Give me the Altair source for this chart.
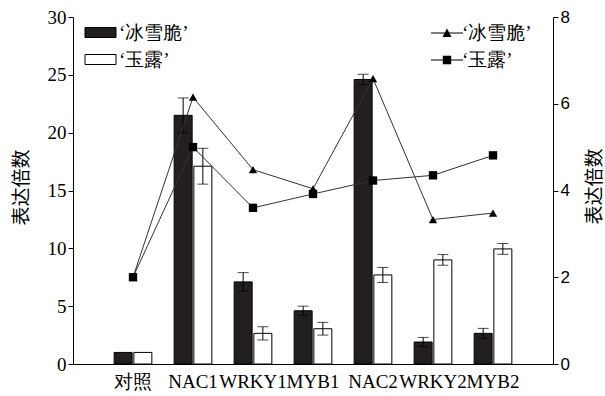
import altair as alt
import pandas as pd

genes = ['对照', 'NAC1', 'WRKY1', 'MYB1', 'NAC2', 'WRKY2', 'MYB2']
varieties = ['‘冰雪脆’', '‘玉露’']

# bar values (left axis) and error half-widths
bx_bar = [1.0, 21.5, 7.1, 4.6, 24.6, 1.9, 2.65]
bx_err = [0.0, 1.5, 0.8, 0.4, 0.45, 0.4, 0.43]
yl_bar = [1.0, 17.1, 2.65, 3.05, 7.7, 9.0, 9.95]
yl_err = [0.0, 1.55, 0.57, 0.55, 0.65, 0.46, 0.47]

# line values (right axis)
bx_line = [2.0, 6.15, 4.48, 4.04, 6.58, 3.33, 3.48]
yl_line = [2.0, 5.0, 3.6, 3.92, 4.23, 4.35, 4.81]

left_ticks = [0, 5, 10, 15, 20, 25, 30]
right_ticks = [0, 2, 4, 6, 8]

bar_rows = []
for v, vals, errs in [(varieties[0], bx_bar, bx_err), (varieties[1], yl_bar, yl_err)]:
    for g, val, e in zip(genes, vals, errs):
        bar_rows.append({'gene': g, 'variety': v, 'value': val, 'err': e,
                         'lo': val - e, 'hi': val + e})
bar_df = pd.DataFrame(bar_rows)

line_rows = []
for v, vals in [(varieties[0], bx_line), (varieties[1], yl_line)]:
    for g, val in zip(genes, vals):
        line_rows.append({'gene': g, 'variety': v, 'value': val, 'variety_l': v})
line_df = pd.DataFrame(line_rows)

SERIF = 'Liberation Serif'
SANS = 'Liberation Sans'
CJK = 'Noto Sans CJK SC'

x_enc = alt.X('gene:N', sort=genes,
              scale=alt.Scale(paddingInner=0, paddingOuter=0.5),
              axis=alt.Axis(title=None, ticks=False, labelAngle=0, labelFont=SERIF,
                            labelFontSize=19, labelColor='black', labelPadding=8,
                            domainColor='black', domainWidth=1))
xoff = alt.XOffset('variety:N', sort=varieties,
                   scale=alt.Scale(paddingInner=0.086, paddingOuter=0.566))

y_left_scale = alt.Scale(domain=[0, 30], nice=False)
y_left_axis = alt.Axis(title='表达倍数', values=left_ticks, grid=False, tickSize=5,
                       tickColor='black', domainColor='black', labelFont=SERIF,
                       labelFontSize=19, labelColor='black', labelPadding=2,
                       titleFont=CJK, titleFontSize=19, titleFontWeight='normal',
                       titleColor='black', titleAngle=270, titleBaseline='middle',
                       titleX=-52, titleY=170)

bar_legend = alt.Legend(title=None, orient='none', legendX=17, legendY=5,
                        symbolType='M-1.55,-0.5H1.55V0.5H-1.55Z', symbolSize=400,
                        symbolStrokeColor='black', symbolStrokeWidth=1,
                        labelFont=SERIF, labelFontSize=19, labelColor='black',
                        labelOffset=8, rowPadding=6, padding=0)

bars = alt.Chart(bar_df).mark_bar(stroke='black', strokeWidth=1).encode(
    x=x_enc, xOffset=xoff,
    y=alt.Y('value:Q', scale=y_left_scale, axis=y_left_axis),
    fill=alt.Fill('variety:N', sort=varieties,
                  scale=alt.Scale(domain=varieties, range=['#231f20', 'white']),
                  legend=bar_legend),
)

err_base = alt.Chart(bar_df).transform_filter('datum.err > 0')
rules = err_base.mark_rule(color='black', strokeWidth=1).encode(
    x=alt.X('gene:N', sort=genes), xOffset=xoff,
    y=alt.Y('lo:Q', scale=y_left_scale), y2='hi:Q')
caps = err_base.transform_fold(['lo', 'hi'], as_=['k', 'v']).mark_tick(
    color='black', thickness=1, size=11).encode(
    x=alt.X('gene:N', sort=genes), xOffset=xoff,
    y=alt.Y('v:Q', scale=y_left_scale))

left = alt.layer(bars, rules, caps)

y_right_scale = alt.Scale(domain=[0, 8], nice=False)
y_right_axis = alt.Axis(title='表达倍数', orient='right', values=right_ticks, grid=False,
                        tickSize=5, tickColor='black', domainColor='black',
                        labelFont=SANS, labelFontSize=17,
                        labelColor='black', labelPadding=2, titleFont=CJK, titleFontSize=19,
                        titleFontWeight='normal', titleColor='black', titleAngle=270,
                        titleBaseline='middle', titleX=41, titleY=169)

lines = alt.Chart(line_df).mark_line(color='#333333', strokeWidth=1).encode(
    x=alt.X('gene:N', sort=genes),
    y=alt.Y('value:Q', scale=y_right_scale, axis=y_right_axis),
    detail='variety:N')

points = alt.Chart(line_df).mark_point(filled=True, color='black', opacity=1).encode(
    x=alt.X('gene:N', sort=genes),
    y=alt.Y('value:Q', scale=y_right_scale),
    shape=alt.Shape('variety:N', sort=varieties,
                    scale=alt.Scale(domain=varieties, range=['triangle-up', 'square']),
                    legend=None),
    size=alt.value(70))

line_legend = alt.Legend(title=None, orient='none', legendX=363, legendY=5,
                         symbolSize=400, symbolFillColor='black',
                         labelFont=SERIF, labelFontSize=19,
                         labelColor='black', labelOffset=4, rowPadding=6, padding=0)

legend_layer = alt.Chart(line_df).transform_filter('false').mark_point(
    filled=True, color='black', opacity=1).encode(
    x=alt.X('gene:N', sort=genes),
    y=alt.Y('value:Q', scale=y_right_scale),
    shape=alt.Shape('variety_l:N', sort=varieties,
                    scale=alt.Scale(domain=varieties, range=[
                        'M-1.6,-0.05H1.6V0.05H-1.6ZM-0.45,0.4L0,-0.45L0.45,0.4Z',
                        'M-1.6,-0.05H1.6V0.05H-1.6ZM-0.42,-0.42H0.42V0.42H-0.42Z']),
                    legend=line_legend))

right = alt.layer(lines, points, legend_layer).resolve_scale(shape='independent')

chart = alt.layer(left, right).resolve_scale(
    y='independent', shape='independent').properties(
    width=480, height=347,
    autosize=alt.AutoSizeParams(type='none'),
    padding={'left': 73, 'top': 17, 'right': 52, 'bottom': 32},
    background='white',
).configure_view(stroke=None)

chart.save('out.html', embed_options={'renderer': 'svg', 'actions': False})
